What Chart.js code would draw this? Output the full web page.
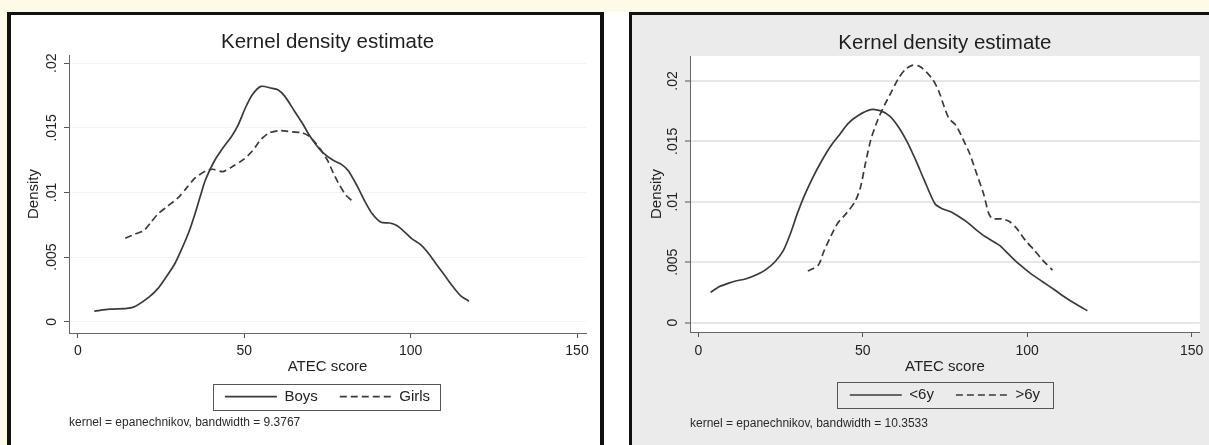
<!DOCTYPE html>
<html>
<head>
<meta charset="utf-8">
<script src="https://cdn.jsdelivr.net/npm/chart.js@4.4.0/dist/chart.umd.min.js"></script>
<style>
body { margin:0; width:1209px; height:445px; overflow:hidden; position:relative; background:#fefae8; }
#sheet { position:absolute; left:7px; top:12px; width:1202px; height:433px; background:#fff; }
#frame1 { position:absolute; left:7px; top:12px; width:597px; height:450px; box-sizing:border-box; border:4px solid #111; border-top-width:3px; background:#fff; }
#frame2 { position:absolute; left:629px; top:12px; width:600px; height:450px; box-sizing:border-box; border:3px solid #111; background:#ebebeb; }
#chart1 { position:absolute; left:12px; top:16px; }
#chart2 { position:absolute; left:632px; top:15px; }
</style>
</head>
<body>
<div id="sheet"></div>
<div id="frame1"></div>
<div id="frame2"></div>
<canvas id="chart1" width="588" height="429"></canvas>
<canvas id="chart2" width="577" height="430"></canvas>
<script>
var FONT = '"Liberation Sans", Arial, sans-serif';

// left graph: boys / girls
var boysX = [4.9, 9.5, 14.7, 17.3, 21.4, 24.0, 26.5, 29.1, 31.2, 33.3, 35.3, 37.4, 38.4, 41.0, 43.6, 46.2, 48.2, 50.3, 52.4, 55.0, 58.1, 60.1, 62.2, 64.8, 67.4, 69.4, 71.5, 73.6, 76.7, 79.2, 81.3, 83.9, 86.4, 88.5, 91.1, 93.7, 95.8, 98.3, 100.4, 103.0, 105.1, 107.6, 110.2, 112.8, 114.9, 117.5];
var boysY = [0.00082, 0.00097, 0.00103, 0.0012, 0.00192, 0.00256, 0.00346, 0.00449, 0.00564, 0.00692, 0.00846, 0.01026, 0.01103, 0.01244, 0.01346, 0.01436, 0.01526, 0.01654, 0.01756, 0.01821, 0.01808, 0.01795, 0.01744, 0.01641, 0.01538, 0.01449, 0.01372, 0.01308, 0.01249, 0.01218, 0.01167, 0.01051, 0.00923, 0.00833, 0.00769, 0.00764, 0.00744, 0.00692, 0.00641, 0.00597, 0.00538, 0.00449, 0.00359, 0.00269, 0.00205, 0.00159];
var girlsX = [14.2, 17.3, 19.8, 21.9, 24.0, 27.1, 30.2, 32.7, 35.3, 38.4, 40.5, 43.6, 46.7, 49.8, 52.4, 55.0, 57.5, 60.6, 64.3, 67.4, 69.4, 71.5, 73.6, 75.1, 76.7, 78.2, 80.3, 82.3];
var girlsY = [0.00646, 0.0068, 0.00705, 0.00769, 0.00833, 0.00897, 0.00962, 0.01038, 0.01115, 0.01167, 0.0118, 0.01162, 0.01205, 0.01256, 0.01321, 0.0141, 0.01462, 0.01479, 0.01469, 0.01462, 0.01436, 0.0138, 0.01308, 0.01244, 0.01154, 0.01077, 0.00987, 0.00936];

// right graph: <6y / >6y
var youngX = [3.7, 6.3, 9.0, 11.6, 14.3, 18.0, 20.6, 23.3, 25.9, 28.0, 30.1, 32.3, 34.9, 37.6, 40.2, 42.8, 45.5, 48.7, 52.4, 55.5, 58.2, 60.8, 63.5, 66.1, 68.7, 71.9, 74.0, 76.7, 79.3, 82.0, 84.6, 87.3, 91.5, 94.1, 97.3, 101.0, 104.7, 108.4, 111.6, 115.3, 118.3];
var youngY = [0.00251, 0.00298, 0.00325, 0.00347, 0.00361, 0.004, 0.00441, 0.00504, 0.006, 0.00738, 0.00904, 0.01055, 0.01207, 0.01344, 0.0146, 0.01551, 0.01647, 0.01716, 0.01763, 0.01752, 0.01708, 0.0162, 0.01496, 0.01344, 0.01179, 0.00986, 0.00945, 0.00917, 0.00876, 0.00826, 0.00766, 0.00711, 0.00642, 0.00573, 0.0049, 0.00408, 0.00339, 0.0027, 0.00209, 0.00146, 0.00099];
var olderX = [33.3, 36.5, 38.1, 40.2, 42.3, 45.0, 47.6, 49.2, 50.8, 52.4, 54.5, 56.6, 58.7, 60.8, 62.9, 65.0, 67.2, 69.3, 71.4, 73.0, 74.6, 76.2, 78.3, 80.4, 82.5, 84.6, 86.7, 88.3, 89.4, 92.6, 94.7, 96.8, 99.4, 102.1, 104.7, 107.7];
var olderY = [0.00427, 0.00477, 0.00587, 0.00711, 0.00821, 0.00904, 0.01, 0.0111, 0.01317, 0.0151, 0.01675, 0.01799, 0.01909, 0.02019, 0.02094, 0.02129, 0.02121, 0.02074, 0.02006, 0.01923, 0.01799, 0.01689, 0.01634, 0.01523, 0.01399, 0.01234, 0.01069, 0.00904, 0.00862, 0.00857, 0.00835, 0.0078, 0.00683, 0.00601, 0.00518, 0.00435];

var xTickValues = [0, 50, 100, 150];
var xTickLabels = ['0', '50', '100', '150'];
var yTickValues = [0, 0.005, 0.01, 0.015, 0.02];
var yTickLabels = ['0', '.005', '.01', '.015', '.02'];

var titleText = 'Kernel density estimate';
var xTitle = 'ATEC score';
var yTitle = 'Density';
var legend1 = ['Boys', 'Girls'];
var legend2 = ['<6y', '>6y'];
var note1 = 'kernel = epanechnikov, bandwidth = 9.3767';
var note2 = 'kernel = epanechnikov, bandwidth = 10.3533';

var points = function(xs, ys) {
	var list = [];
	for (var i = 0; i < xs.length; i++) {
		list.push({x: xs[i], y: ys[i]});
	}
	return list;
};

// box around the legend items, like stata
var legendFrame = {
	id: 'legendFrame',
	afterDraw: function(chart, args, opts) {
		var boxes = chart.legend.legendHitBoxes;
		if (!boxes || !boxes.length) return;
		var last = boxes[boxes.length - 1];
		var left = Math.round(boxes[0].left - opts.padLeft) + 0.5;
		var right = Math.round(last.left + last.width + opts.padRight) + 0.5;
		var top = Math.round(boxes[0].top - opts.padY) + 0.5;
		var bottom = Math.round(boxes[0].top + boxes[0].height + opts.padY) + 0.5;
		var ctx = chart.ctx;
		ctx.save();
		ctx.strokeStyle = '#555';
		ctx.lineWidth = 1;
		ctx.strokeRect(left, top, right - left, bottom - top);
		ctx.restore();
	}
};
var plotFill = {
	id: 'plotFill',
	beforeDraw: function(chart, args, opts) {
		if (!opts.color) return;
		var a = chart.chartArea;
		chart.ctx.save();
		chart.ctx.fillStyle = opts.color;
		chart.ctx.fillRect(a.left, a.top, a.right - a.left, a.bottom - a.top);
		chart.ctx.restore();
	}
};

// legend samples keep the dash of their dataset
var legendLabels = function(chart) {
	var items = Chart.defaults.plugins.legend.labels.generateLabels(chart);
	items.forEach(function(it) {
		var ds = chart.data.datasets[it.datasetIndex];
		it.lineDash = ds.borderDash;
		it.lineWidth = ds.borderWidth;
		it.strokeStyle = ds.borderColor;
	});
	return items;
};

var lineSet = function(label, xs, ys, dash) {
	return {
		label: label,
		data: points(xs, ys),
		borderColor: '#3a3a3a',
		backgroundColor: '#3a3a3a',
		borderWidth: 1.7,
		borderDash: dash,
		pointRadius: 0,
		pointHoverRadius: 0,
		fill: false,
		tension: 0.25
	};
};

var makeChart = function(id, sets, note, p) {
	return new Chart(document.getElementById(id), {
		type: 'line',
		data: { datasets: sets },
		plugins: [legendFrame, plotFill],
		options: {
			responsive: false,
			animation: false,
			events: [],
			layout: { padding: p.pad },
			plugins: {
				title: {
					display: true, text: titleText, fullSize: false, color: '#1e1e1e',
					font: { family: FONT, size: 20.5, weight: 'normal' },
					padding: p.titlePad
				},
				subtitle: {
					display: true, text: note, position: 'bottom', fullSize: false, align: 'start', color: '#2a2a2a',
					font: { family: FONT, size: 12, weight: 'normal' },
					padding: { top: p.notePad, bottom: 0 }
				},
				legend: {
					position: 'bottom', fullSize: false, align: 'center',
					labels: {
						usePointStyle: true, pointStyle: 'line', pointStyleWidth: 52, padding: 22,
						color: '#222', font: { family: FONT, size: 15 },
						generateLabels: legendLabels
					}
				},
				tooltip: { enabled: false },
				legendFrame: { padLeft: p.frameL, padRight: p.frameR, padY: 5.5 },
				plotFill: { color: p.plotColor }
			},
			scales: {
				x: {
					type: 'linear', min: p.xMin, max: p.xMax,
					afterBuildTicks: function(scale) {
						scale.ticks = xTickValues.map(function(v) { return {value: v}; });
					},
					afterFit: function(scale) { scale.height = p.xHeight; },
					ticks: {
						autoSkip: false, maxRotation: 0, padding: p.xTickPad, color: '#222',
						font: { family: FONT, size: 14 },
						callback: function(v, i) { return xTickLabels[i]; }
					},
					grid: { drawOnChartArea: false, drawTicks: true, tickLength: 5, tickColor: '#555', tickWidth: 1 },
					border: { display: true, color: '#666', width: 1 },
					title: {
						display: true, text: xTitle, color: '#222',
						font: { family: FONT, size: 15 },
						padding: { top: 0, bottom: p.xTitlePad }
					}
				},
				y: {
					type: 'linear', min: p.yMin, max: p.yMax,
					afterBuildTicks: function(scale) {
						scale.ticks = yTickValues.map(function(v) { return {value: v}; });
					},
					afterFit: function(scale) { scale.width = p.yWidth; },
					ticks: {
						autoSkip: false, minRotation: 90, maxRotation: 90, crossAlign: 'center',
						padding: p.yTickPad, color: '#222',
						font: { family: FONT, size: 14 },
						callback: function(v, i) { return yTickLabels[i]; }
					},
					grid: { color: p.gridColor, lineWidth: p.gridWidth, tickLength: 5, tickColor: '#555', tickWidth: 1 },
					border: { display: true, color: '#666', width: 1 },
					title: {
						display: true, text: yTitle, color: '#222',
						font: { family: FONT, size: 15 },
						padding: { top: p.yTitlePad, bottom: 0 }
					}
				}
			}
		}
	});
};

makeChart('chart1', [
	lineSet(legend1[0], boysX, boysY, []),
	lineSet(legend1[1], girlsX, girlsY, [7, 4])
], note1, {
	pad: { left: 0, right: 14, top: 0, bottom: 14.8 },
	titlePad: { top: 14, bottom: 0.4 },
	xMin: -2.7, xMax: 152.7, yMin: -0.00087, yMax: 0.02064,
	xHeight: 34.2, xTickPad: 4.6, xTitlePad: -8.8,
	yWidth: 57, yTickPad: -1.3, yTitlePad: 13,
	notePad: 1.6, frameL: 12, frameR: 10,
	gridColor: '#f3f3f3', gridWidth: 1, plotColor: null
});

makeChart('chart2', [
	lineSet(legend2[0], youngX, youngY, []),
	lineSet(legend2[1], olderX, olderY, [7, 4])
], note2, {
	pad: { left: 0, right: 5, top: 0, bottom: 14.5 },
	titlePad: { top: 16.4, bottom: 0 },
	xMin: -2.56, xMax: 152.5, yMin: -0.00077, yMax: 0.02206,
	xHeight: 33.5, xTickPad: 5.6, xTitlePad: -10.5,
	yWidth: 58, yTickPad: -1.6, yTitlePad: 16,
	notePad: 3.6, frameL: 13, frameR: 13,
	gridColor: '#e6e6e6', gridWidth: 2, plotColor: '#ffffff'
});
</script>
</body>
</html>
